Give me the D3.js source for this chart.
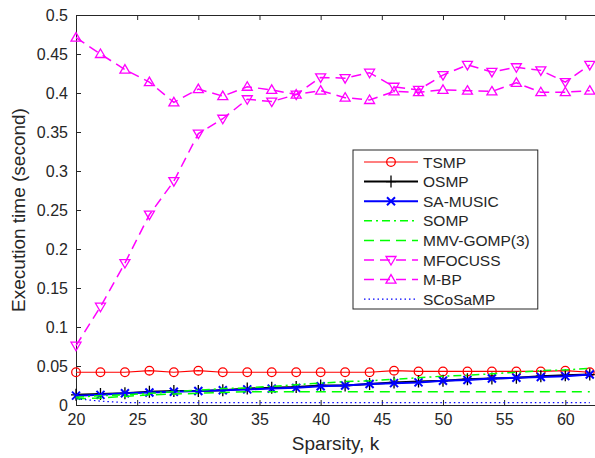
<!DOCTYPE html>
<html><head><meta charset="utf-8">
<script src="https://cdn.jsdelivr.net/npm/d3@7"></script>
<style>body{margin:0;background:#fff}svg{display:block}text{font-family:"Liberation Sans",Arial,sans-serif;fill:#262626}</style>
</head><body><svg id="c" width="595" height="458"></svg>
<script>
const sparsity = [20,22,24,26,28,30,32,34,36,38,40,42,44,46,48,50,52,54,56,58,60,62];
const tsmp    = [0.042,0.042,0.042,0.044,0.042,0.044,0.042,0.042,0.042,0.042,0.042,0.042,0.042,0.044,0.043,0.043,0.043,0.043,0.043,0.043,0.044,0.042];
const osmp    = [0.013,0.014,0.015,0.017,0.018,0.018,0.019,0.021,0.022,0.023,0.025,0.025,0.027,0.029,0.030,0.031,0.033,0.034,0.035,0.037,0.038,0.039];
const samusic = [0.012,0.013,0.015,0.016,0.017,0.018,0.019,0.020,0.021,0.022,0.024,0.025,0.027,0.028,0.029,0.031,0.032,0.034,0.035,0.036,0.037,0.039];
const somp    = [0.010,0.012,0.013,0.015,0.017,0.019,0.021,0.022,0.024,0.026,0.028,0.030,0.031,0.033,0.035,0.037,0.038,0.040,0.042,0.044,0.045,0.047];
const mmvgomp = [0.008,0.009,0.011,0.013,0.014,0.015,0.016,0.017,0.017,0.017,0.017,0.017,0.017,0.017,0.017,0.017,0.017,0.017,0.017,0.017,0.017,0.017];
const mfocuss = [0.076,0.126,0.182,0.244,0.287,0.348,0.367,0.392,0.389,0.398,0.420,0.419,0.426,0.408,0.404,0.423,0.436,0.427,0.433,0.429,0.414,0.436];
const mbp     = [0.471,0.450,0.430,0.414,0.388,0.405,0.396,0.408,0.404,0.398,0.403,0.394,0.391,0.402,0.401,0.404,0.403,0.402,0.413,0.401,0.401,0.403];
const scosamp = [0.008,0.005,0.003,0.003,0.003,0.003,0.003,0.003,0.003,0.003,0.003,0.003,0.003,0.003,0.003,0.003,0.003,0.003,0.003,0.003,0.003,0.003];
const xTicks = [20,25,30,35,40,45,50,55,60];
const yTicks = [0,0.05,0.1,0.15,0.2,0.25,0.3,0.35,0.4,0.45,0.5];
const names = ["TSMP","OSMP","SA-MUSIC","SOMP","MMV-GOMP(3)","MFOCUSS","M-BP","SCoSaMP"];

const series = [
  {name:names[0], v:tsmp,    color:"#ff0000", w:1.2, dash:null,  marker:"circle"},
  {name:names[1], v:osmp,    color:"#000000", w:2,   dash:null,  marker:"plus"},
  {name:names[2], v:samusic, color:"#0000ff", w:2,   dash:null,  marker:"x"},
  {name:names[3], v:somp,    color:"#00ff00", w:1.5, dash:"8,4,2,4", marker:null},
  {name:names[4], v:mmvgomp, color:"#00ff00", w:1.5, dash:"10,6", marker:null},
  {name:names[5], v:mfocuss, color:"#ff00ff", w:1.5, dash:"10,6", marker:"tridown"},
  {name:names[6], v:mbp,     color:"#ff00ff", w:1.5, dash:"10,6", marker:"triup"},
  {name:names[7], v:scosamp, color:"#0000ff", w:1.2, dash:"1.5,3", marker:null}
];

const L=76, T=15, R=602, B=405;
const x = d3.scaleLinear().domain([20,63]).range([L,R]);
const y = d3.scaleLinear().domain([0,0.5]).range([B,T]);
const svg = d3.select("#c");

function drawMarker(g, type, cx, cy, color){
  if(type==="circle"){
    g.append("circle").attr("cx",cx).attr("cy",cy).attr("r",4.3).attr("fill","none").attr("stroke",color).attr("stroke-width",1.3); return; }
  const s = g.append("path").attr("fill","none").attr("stroke",color).attr("stroke-width",1.3);
  let d="";
  if(type==="plus"){ d=`M${cx-5},${cy}H${cx+5}M${cx},${cy-6}V${cy+6}`; }
  if(type==="x"){ d=`M${cx-4},${cy-4}L${cx+4},${cy+4}M${cx-4},${cy+4}L${cx+4},${cy-4}`; s.attr("stroke-width",2); }
  if(type==="triup"){ d=`M${cx},${cy-5}L${cx+5},${cy+3.5}L${cx-5},${cy+3.5}Z`; }
  if(type==="tridown"){ d=`M${cx},${cy+5}L${cx+5},${cy-3.5}L${cx-5},${cy-3.5}Z`; }
  s.attr("d",d);
}

// axes box and ticks (MATLAB style: inward)
const axG = svg.append("g");
axG.append("g").attr("transform",`translate(0,${B})`)
  .call(d3.axisBottom(x).tickValues(xTicks).tickSize(-5).tickPadding(9).tickFormat(d3.format("d")));
axG.append("g").attr("transform",`translate(0,${T})`)
  .call(d3.axisTop(x).tickValues(xTicks).tickSize(-5).tickFormat(""));
axG.append("g").attr("transform",`translate(${L},0)`)
  .call(d3.axisLeft(y).tickValues(yTicks).tickSize(-5).tickPadding(8).tickFormat(v=>String(+v.toFixed(2))));
axG.append("g").attr("transform",`translate(${R},0)`)
  .call(d3.axisRight(y).tickValues(yTicks).tickSize(-5).tickFormat(""));
axG.selectAll(".domain").attr("stroke","#262626").attr("stroke-width",1);
axG.selectAll(".tick line").attr("stroke","#262626").attr("stroke-width",1);
axG.selectAll(".tick text").style("font-size","16px").attr("fill","#262626").style("font-family","'Liberation Sans',Arial,sans-serif");

// series
const plotG = svg.append("g");
const line = d3.line().x((d,i)=>x(sparsity[i])).y(d=>y(d));
series.forEach(s=>{
  const p = plotG.append("path").datum(s.v).attr("d",line).attr("fill","none")
    .attr("stroke",s.color).attr("stroke-width",s.w);
  if(s.dash) p.attr("stroke-dasharray",s.dash);
  if(s.marker){
    const mg = plotG.append("g");
    s.v.forEach((v,i)=>drawMarker(mg, s.marker, x(sparsity[i]), y(v), s.color));
  }
});

// labels
svg.append("text").attr("x",(L+595)/2).attr("y",450).attr("text-anchor","middle").style("font-size","19px").text("Sparsity, k");
svg.append("text").attr("transform",`translate(25,${(T+B)/2}) rotate(-90)`).attr("text-anchor","middle").style("font-size","19px").text("Execution time (second)");

// legend
const lg = svg.append("g");
const lx=353, ly=150, lh=159, rowH=19.6;
const box = lg.append("rect").attr("x",lx).attr("y",ly).attr("height",lh).attr("fill","#fff").attr("stroke","#262626").attr("stroke-width",1);
let maxW=0;
series.forEach((s,i)=>{
  const cy = ly+12+i*rowH;
  const p = lg.append("line").attr("x1",364).attr("x2",418).attr("y1",cy).attr("y2",cy).attr("stroke",s.color).attr("stroke-width",s.w);
  if(s.dash) p.attr("stroke-dasharray",s.dash);
  if(s.marker) drawMarker(lg, s.marker, 391, cy, s.color);
  const t = lg.append("text").attr("x",423).attr("y",cy).attr("dy","0.36em").style("font-size","15.5px").text(s.name);
  maxW = Math.max(maxW, t.node().getComputedTextLength());
});
box.attr("width", 423+maxW+8-lx);
</script></body></html>
